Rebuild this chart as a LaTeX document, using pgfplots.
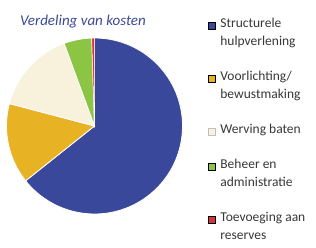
\documentclass[border=0pt]{standalone}
\usepackage{pgfplots}
\pgfplotsset{compat=1.18}
\usepackage{fontspec}
\setmainfont{Carlito}
\definecolor{cBlue}{RGB}{58,72,155}
\definecolor{cYellow}{RGB}{231,178,36}
\definecolor{cCream}{RGB}{248,241,219}
\definecolor{cGreen}{RGB}{140,196,68}
\definecolor{cRed}{RGB}{214,50,56}
\definecolor{cTitle}{RGB}{60,74,150}
\definecolor{cText}{RGB}{55,55,55}
\newcommand\lt[1]{\begin{tabular}[t]{@{}l@{}}#1\end{tabular}}
\begin{document}
\begin{tikzpicture}
\useasboundingbox (0,0) rectangle (316pt,248pt);
\begin{axis}[
  at={(0,0)}, anchor=south west,
  scale only axis, width=316pt, height=248pt,
  xmin=0, xmax=316, ymin=0, ymax=248,
  hide axis, clip=false,
  legend image code/.code={\fill[#1] (0pt,-1pt) rectangle (7pt,6pt);},
  legend style={at={(axis cs:208,232.6)}, anchor=north west,
    draw=none, fill=none, inner sep=0pt, outer sep=0pt,
    row sep=17pt, column sep=5pt,
    font=\fontsize{13.5}{18}\selectfont\color{cText},
    nodes={inner sep=0pt, text depth={}},
    cells={anchor=base west}},
]
% values (percent), clockwise from 12 o'clock
\def\cx{94.5}\def\cy{122}\def\r{88pt}
\fill[cBlue,draw=white,line width=0.8pt] (axis cs:\cx,\cy) -- ++(90:\r) arc[start angle=90, end angle={90-3.6*64.3}, radius=\r] -- cycle;
\fill[cYellow,draw=white,line width=0.8pt] (axis cs:\cx,\cy) -- ++({90-3.6*64.3}:\r) arc[start angle={90-3.6*64.3}, end angle={90-3.6*(64.3+14.8)}, radius=\r] -- cycle;
\fill[cCream,draw=white,line width=0.8pt] (axis cs:\cx,\cy) -- ++({90-3.6*(64.3+14.8)}:\r) arc[start angle={90-3.6*(64.3+14.8)}, end angle={90-3.6*(64.3+14.8+15.3)}, radius=\r] -- cycle;
\fill[cGreen,draw=white,line width=0.8pt] (axis cs:\cx,\cy) -- ++({90-3.6*(64.3+14.8+15.3)}:\r) arc[start angle={90-3.6*(64.3+14.8+15.3)}, end angle={90-3.6*(64.3+14.8+15.3+5.1)}, radius=\r] -- cycle;
\fill[cRed,draw=white,line width=0.5pt] (axis cs:\cx,\cy) -- ++({90-3.6*(64.3+14.8+15.3+5.1)}:\r) arc[start angle={90-3.6*(64.3+14.8+15.3+5.1)}, end angle={90-3.6*(64.3+14.8+15.3+5.1+0.5)}, radius=\r] -- cycle;
\node[anchor=base west, inner sep=0pt, font=\fontsize{15}{18}\selectfont\itshape, text=cTitle] at (axis cs:20,222) {Verdeling van kosten};
\addlegendimage{fill=cBlue}
\addlegendentry{\lt{Structurele\\hulpverlening}}
\addlegendimage{fill=cYellow}
\addlegendentry{\lt{Voorlichting/\\bewustmaking}}
\addlegendimage{fill=cCream, draw=black!25, line width=0.4pt}
\addlegendentry{\lt{Werving baten}}
\addlegendimage{fill=cGreen}
\addlegendentry{\lt{Beheer en\\administratie}}
\addlegendimage{fill=cRed}
\addlegendentry{\lt{Toevoeging aan\\reserves}}
\end{axis}
\end{tikzpicture}
\end{document}
